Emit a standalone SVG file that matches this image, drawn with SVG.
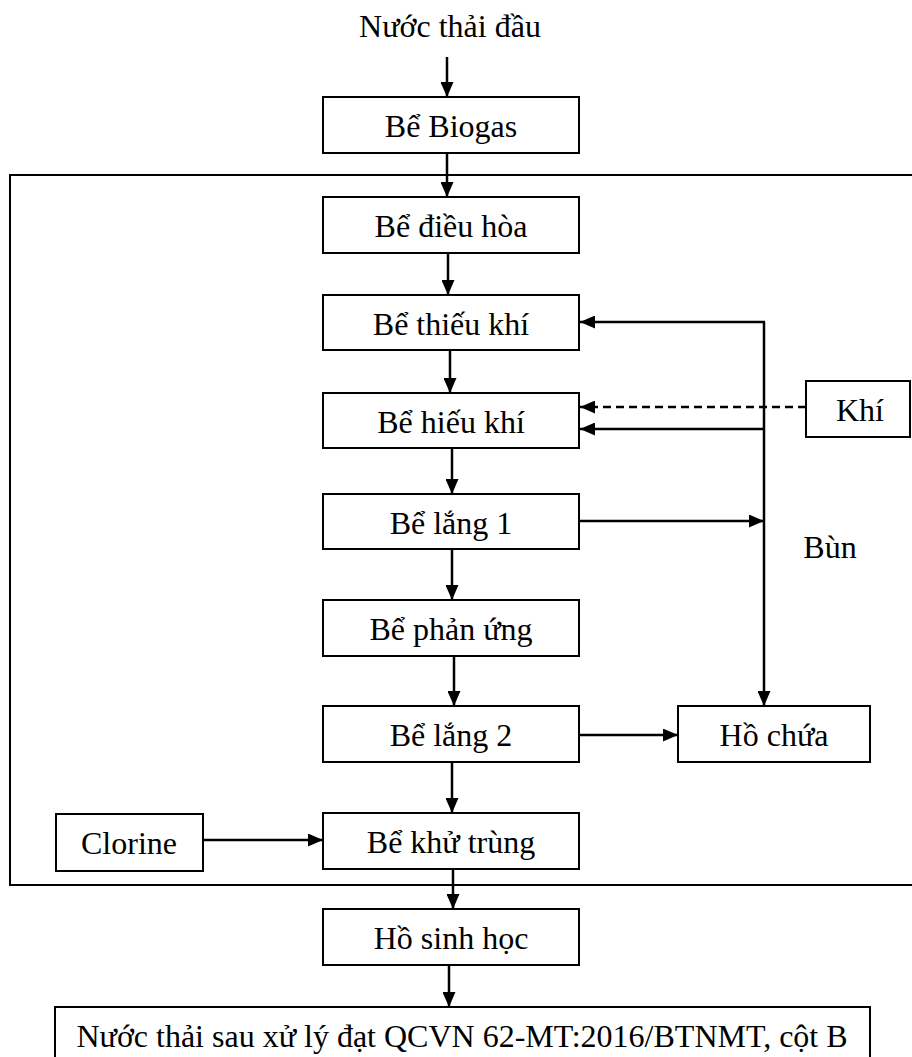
<svg xmlns="http://www.w3.org/2000/svg" width="912" height="1057" viewBox="0 0 912 1057">
<style>
.box{fill:#fff;stroke:#000;stroke-width:2}
.t{font-family:"Liberation Serif","Times New Roman",serif;font-size:32px;fill:#000;text-anchor:middle}
.c{stroke:#000;stroke-width:2.5;fill:none;marker-end:url(#ah)}
.l{stroke:#000;stroke-width:2.5;fill:none}
.d{stroke:#000;stroke-width:2.5;fill:none;stroke-dasharray:8 5;marker-end:url(#ah)}
</style>
<defs>
<marker id="ah" markerUnits="userSpaceOnUse" markerWidth="15" markerHeight="13" refX="15" refY="6.5" orient="auto">
<path d="M0,0 L15,6.5 L0,13 z" fill="#000"/>
</marker>
</defs>
<rect x="10" y="175" width="920" height="710" fill="none" stroke="#000" stroke-width="2"/>
<g id="connectors">
<line class="c" x1="447" y1="57" x2="447" y2="97"/>
<line class="c" x1="447" y1="153" x2="447" y2="197"/>
<line class="c" x1="448" y1="253" x2="448" y2="295"/>
<line class="c" x1="450" y1="350" x2="450" y2="393"/>
<line class="c" x1="452" y1="448" x2="452" y2="494"/>
<line class="c" x1="452" y1="549" x2="452" y2="600"/>
<line class="c" x1="454" y1="656" x2="454" y2="706"/>
<line class="c" x1="452" y1="762" x2="452" y2="813"/>
<line class="c" x1="453" y1="869" x2="453" y2="909"/>
<line class="c" x1="449" y1="965" x2="449" y2="1007"/>
<line class="c" x1="764" y1="322" x2="764" y2="706"/>
<line class="c" x1="765" y1="322" x2="580" y2="322"/>
<line class="c" x1="764" y1="429" x2="580" y2="429"/>
<line class="d" x1="806" y1="407" x2="580" y2="407"/>
<line class="c" x1="580" y1="521" x2="764" y2="521"/>
<line class="c" x1="580" y1="735" x2="678" y2="735"/>
<line class="c" x1="203" y1="840" x2="323" y2="840"/>
</g>
<g id="n0"><text class="t" x="450" y="37">Nước thải đầu</text></g>
<g id="n1"><rect class="box" x="323" y="97" width="256" height="56"/><text class="t" x="451" y="137">Bể Biogas</text></g>
<g id="n2"><rect class="box" x="323" y="197" width="256" height="56"/><text class="t" x="451" y="237">Bể điều hòa</text></g>
<g id="n3"><rect class="box" x="323" y="295" width="256" height="55"/><text class="t" x="451" y="335">Bể thiếu khí</text></g>
<g id="n4"><rect class="box" x="323" y="393" width="256" height="55"/><text class="t" x="451" y="433">Bể hiếu khí</text></g>
<g id="n5"><rect class="box" x="323" y="494" width="256" height="55"/><text class="t" x="451" y="534">Bể lắng 1</text></g>
<g id="n6"><rect class="box" x="323" y="600" width="256" height="56"/><text class="t" x="451" y="640">Bể phản ứng</text></g>
<g id="n7"><rect class="box" x="323" y="706" width="256" height="56"/><text class="t" x="451" y="746">Bể lắng 2</text></g>
<g id="n8"><rect class="box" x="323" y="813" width="256" height="56"/><text class="t" x="451" y="853">Bể khử trùng</text></g>
<g id="n9"><rect class="box" x="323" y="909" width="256" height="56"/><text class="t" x="451" y="949">Hồ sinh học</text></g>
<g id="n10"><rect class="box" x="55" y="1007" width="815" height="60"/><text class="t" x="462" y="1047">Nước thải sau xử lý đạt QCVN 62-MT:2016/BTNMT, cột B</text></g>
<g id="n11"><rect class="box" x="56" y="814" width="147" height="57"/><text class="t" x="129" y="854">Clorine</text></g>
<g id="n12"><rect class="box" x="678" y="706" width="192" height="56"/><text class="t" x="774" y="746">Hồ chứa</text></g>
<g id="n13"><rect class="box" x="806" y="381" width="104" height="56"/><text class="t" x="860" y="421">Khí</text></g>
<g id="n14"><text class="t" x="830" y="558">Bùn</text></g>
</svg>
